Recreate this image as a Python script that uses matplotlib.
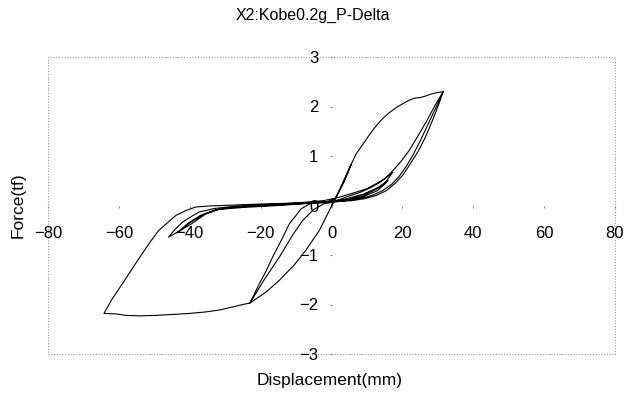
import matplotlib
matplotlib.use("Agg")
import matplotlib.pyplot as plt
from matplotlib.patches import Rectangle

plt.rcParams['font.family'] = ['Liberation Sans', 'DejaVu Sans']

title = "X2:Kobe0.2g_P-Delta"
xlabel = "Displacement(mm)"
ylabel = "Force(tf)"
xticks = [-80, -60, -40, -20, 0, 20, 40, 60, 80]
yticks = [-3, -2, -1, 0, 1, 2, 3]

# branches of the hysteresis path (mm, tf)
b1_x = [0.0, 1.5, 3.0, 4.3, 5.6]
b1_y = [0.0, 0.2, 0.43, 0.64, 0.84]
b2_x = [5.6, 4.2, 2.8, 1.2, -1.5, -3.5, -5.3]
b2_y = [0.84, 0.6, 0.38, 0.15, 0.06, 0.05, 0.05]
b3_x = [-5.3, -6.5, -8.6, -10.0, -11.9, -14.0, -16.6, -18.5, -20.5, -23.0]
b3_y = [0.05, 0.02, -0.07, -0.2, -0.37, -0.68, -1.04, -1.33, -1.6, -1.97]
b4_x = [-23.0, -18.5, -14.7, -10.5, -7.2, -3.4, -0.6, 1.3, 3.7, 5.6, 7.0, 8.9,
        10.7, 12.6, 14.5, 16.4, 18.3, 20.2, 22.0, 23.5, 25.0, 26.5, 28.0, 29.8, 31.5]
b4_y = [-1.97, -1.75, -1.51, -1.2, -0.9, -0.5, -0.1, 0.17, 0.5, 0.84, 1.05, 1.24,
        1.43, 1.61, 1.76, 1.88, 1.98, 2.06, 2.13, 2.17, 2.18, 2.21, 2.25, 2.28, 2.3]
b5_x = [31.5, 30.3, 28.5, 26.5, 24.5, 22.3, 20.2, 18.0, 15.5, 12.5, 9.5, 6.0, 2.0, 0.4]
b5_y = [2.3, 2.05, 1.72, 1.38, 1.1, 0.85, 0.62, 0.45, 0.3, 0.2, 0.14, 0.1, 0.08, 0.1]
b6_x = [0.4, -2.0, -5.0, -8.1, -11.0, -14.7, -19.0, -23.0]
b6_y = [0.1, 0.04, -0.08, -0.3, -0.6, -1.04, -1.5, -1.97]
b7_x = [-23.0, -25.0, -27.9, -31.5, -35.5, -40.0, -44.9, -49.5, -54.3, -58.0, -60.9, -64.2]
b7_y = [-1.97, -2.0, -2.05, -2.11, -2.15, -2.18, -2.2, -2.22, -2.23, -2.22, -2.19, -2.18]
b8_x = [-64.2, -62.0, -59.0, -56.0, -53.4, -51.0, -48.7, -46.0, -43.9, -41.0, -38.3,
        -34.5, -30.8, -27.0, -24.1, -20.0, -15.0, -10.0, -5.0, 0.0, 2.3]
b8_y = [-2.18, -1.9, -1.58, -1.25, -0.97, -0.72, -0.5, -0.33, -0.2, -0.1, -0.03,
        -0.01, 0.0, 0.01, 0.02, 0.03, 0.04, 0.05, 0.06, 0.08, 0.12]
b9_x = [2.3, 4.5, 7.9, 11.0, 13.5, 15.5, 17.5, 19.5, 21.8, 24.2, 26.8, 29.2, 31.5]
b9_y = [0.12, 0.18, 0.26, 0.36, 0.46, 0.57, 0.72, 0.88, 1.1, 1.38, 1.7, 2.02, 2.3]
b10_x = [31.5, 29.8, 27.5, 25.2, 23.0, 21.0, 19.0, 17.0, 14.4, 12.0, 9.8, 6.0, 2.3]
b10_y = [2.3, 2.03, 1.68, 1.33, 1.02, 0.78, 0.58, 0.43, 0.3, 0.22, 0.17, 0.12, 0.1]
b11_x = [2.3, -5.0, -15.0, -25.0, -31.0, -35.5, -39.5, -43.0, -46.0]
b11_y = [0.1, 0.06, 0.02, -0.02, -0.06, -0.17, -0.37, -0.52, -0.64]
b12_x = [-46.0, -44.0, -42.1, -39.5, -37.3, -33.0, -28.0, -20.0, -10.0, -2.0,
         2.3, 7.0, 10.0, 12.6, 14.8, 17.3]
b12_y = [-0.64, -0.47, -0.34, -0.22, -0.13, -0.06, -0.02, 0.01, 0.05, 0.1,
         0.17, 0.27, 0.34, 0.44, 0.53, 0.67]
b13_x = [17.3, 15.2, 13.5, 11.0, 8.9, 5.5, 2.3, -5.0, -15.0, -25.0, -32.0, -36.0, -40.0, -43.5]
b13_y = [0.67, 0.47, 0.36, 0.27, 0.2, 0.14, 0.1, 0.05, 0.0, -0.04, -0.08, -0.18, -0.35, -0.55]
b14_x = [-43.5, -40.5, -37.0, -33.0, -27.0, -18.0, -8.0, 0.0, 4.0, 9.0, 13.0, 16.0]
b14_y = [-0.55, -0.36, -0.2, -0.09, -0.03, 0.0, 0.04, 0.08, 0.13, 0.23, 0.36, 0.5]
b15_x = [16.0, 13.0, 9.0, 4.0, 0.0, -2.0]
b15_y = [0.5, 0.3, 0.18, 0.1, 0.06, 0.04]

bx = [b1_x, b2_x, b3_x, b4_x, b5_x, b6_x, b7_x, b8_x, b9_x, b10_x, b11_x, b12_x, b13_x, b14_x, b15_x]
by = [b1_y, b2_y, b3_y, b4_y, b5_y, b6_y, b7_y, b8_y, b9_y, b10_y, b11_y, b12_y, b13_y, b14_y, b15_y]
disp = []
force = []
for xs, ys in zip(bx, by):
    disp += xs
    force += ys

fig = plt.figure(figsize=(6.26, 3.96), dpi=100)
ax = fig.add_axes([48/626, 1-354/396, (615-48)/626, (354-57)/396])
ax.plot(disp, force, color="black", lw=0.8)
ax.set_xlim(-80, 80)
ax.set_ylim(-3, 3)

ax.spines['left'].set_position(('data', 0))
ax.spines['bottom'].set_position(('data', 0))
for s in ax.spines.values():
    s.set_visible(False)
ax.add_patch(Rectangle((0, 0), 1, 1, transform=ax.transAxes, fill=False,
                       ls=(0, (1, 1.5)), ec="#9a9a9a", lw=0.8, clip_on=False))

ax.set_xticks(xticks)
ax.set_yticks(yticks)
ax.tick_params(axis='x', length=1.5, color="#888888", labelsize=12, pad=13)
ax.tick_params(axis='y', length=1.5, color="#888888", labelsize=12, pad=8)

fig.text(313/626, 1-15/396, title, ha='center', va='center', fontsize=11.5)
fig.text(330/626, 1-381/396, xlabel, ha='center', va='center', fontsize=12.5)
fig.text(18/626, 1-205/396, ylabel, ha='center', va='center', rotation=90, fontsize=12.5)

fig.savefig("out.png", dpi=100)
